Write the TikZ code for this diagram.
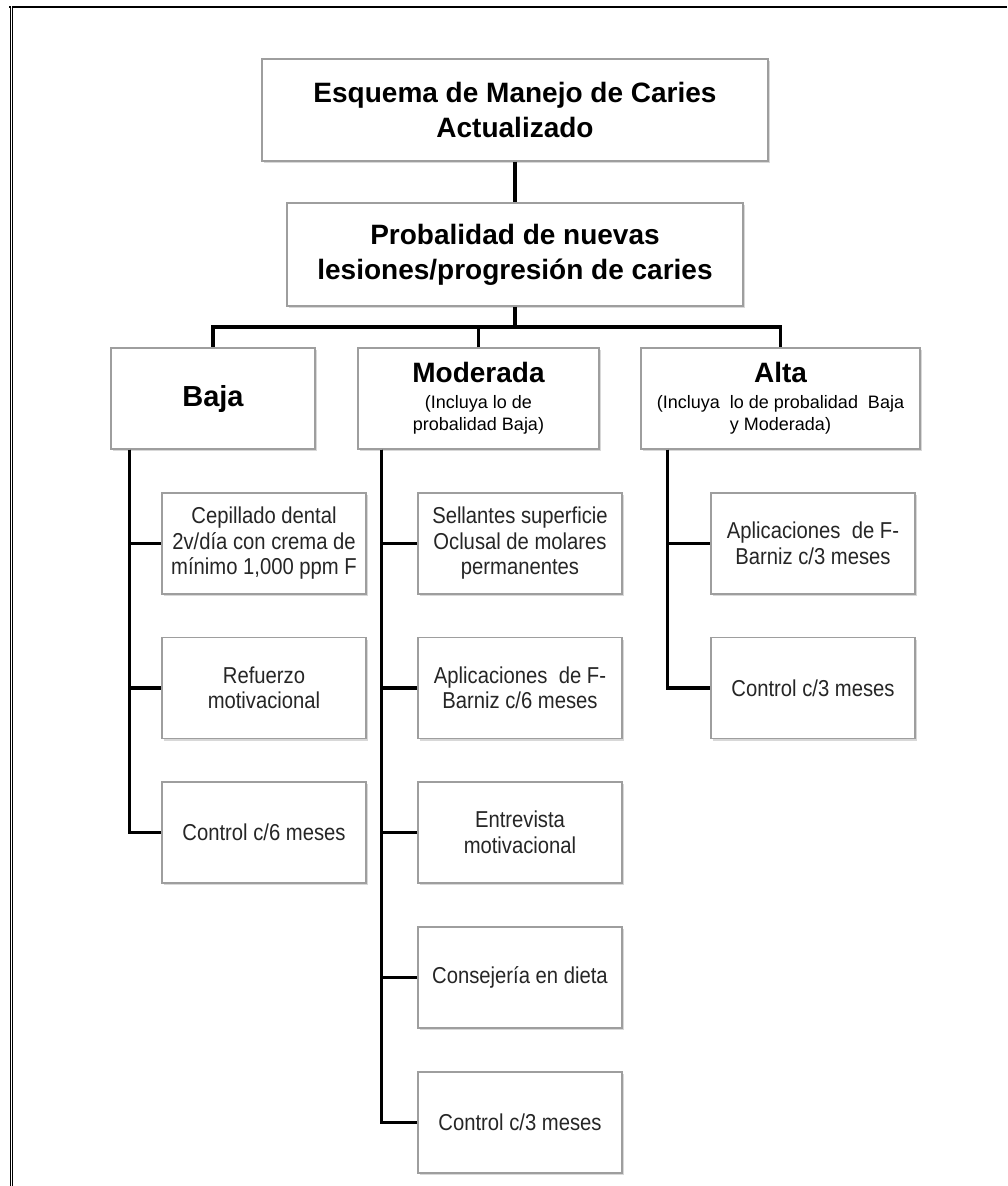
\documentclass[tikz,border=0pt]{standalone}
\usepackage{fontspec}
\setmainfont{Liberation Sans}
\newfontfamily\estrecha[FakeStretch=0.88]{Liberation Sans}
\usetikzlibrary{shadows}

\newcommand\titulo{\fontsize{28}{35}\selectfont\bfseries}
\newcommand\nivel{\fontsize{28}{30}\selectfont\bfseries}
\newcommand\nota{\fontsize{18}{22}\selectfont}
\newcommand\accion{\estrecha\fontsize{23}{25.5}\selectfont}

\tikzset{
  caja/.style={draw=black!38, line width=1.3pt, fill=white, align=center,
    drop shadow={shadow xshift=1.5pt, shadow yshift=-2pt, fill=black!30, opacity=0.5}},
  hijo/.style={caja, minimum width=204, minimum height=101, font=\accion, text=black!85},
  linea/.style={line width=3.2pt, black}
}

\begin{document}
\begin{tikzpicture}[x=1pt, y=-1pt]
\useasboundingbox (0,0) rectangle (1007,1186);
% marco
\draw[line width=2.6pt] (9,7) -- (1007,7);
\draw[double, double distance=1.3pt, line width=1.1pt] (11.5,6) -- (11.5,1186);

% cabecera
\node[caja, minimum width=506, minimum height=102, font=\titulo] (esquema) at (515,110) {Esquema de Manejo de Caries\\Actualizado};
\node[caja, minimum width=456, minimum height=103, font=\titulo] (prob) at (515,254.5) {Probalidad de nuevas\\lesiones/progresión de caries};

% niveles
\node[caja, minimum width=204, minimum height=101, font=\fontsize{29}{30}\selectfont\bfseries] (baja) at (213,398.5) {Baja};
\node[caja, minimum width=241, minimum height=101, font=\nota] (moderada) at (478.5,398.5) {{\nivel Moderada}\\[4pt](Incluya lo de\\probalidad Baja)};
\node[caja, minimum width=279, minimum height=101, font=\nota] (alta) at (780.5,398.5) {{\nivel Alta}\\[4pt](Incluya\ \ lo de probalidad\ \ Baja\\y Moderada)};

% baja
\node[hijo] (baja1) at (264,543.5) {Cepillado dental\\2v/día con crema de\\mínimo 1,000 ppm F};
\node[hijo] (baja2) at (264,688) {Refuerzo\\motivacional};
\node[hijo] (baja3) at (264,832.5) {Control c/6 meses};

% moderada
\node[hijo] (mod1) at (520,543.5) {Sellantes superficie\\Oclusal de molares\\permanentes};
\node[hijo] (mod2) at (520,688) {Aplicaciones\ \ de F-\\Barniz c/6 meses};
\node[hijo] (mod3) at (520,832.5) {Entrevista\\motivacional};
\node[hijo] (mod4) at (520,977.5) {Consejería en dieta};
\node[hijo] (mod5) at (520,1122.5) {Control c/3 meses};

% alta
\node[hijo] (alta1) at (813,543.5) {Aplicaciones\ \ de F-\\Barniz c/3 meses};
\node[hijo] (alta2) at (813,688) {Control c/3 meses};

% conectores
\coordinate (bus) at (515,327);
\draw[linea] (esquema.south) -- (prob.north);
\draw[linea] (prob.south) -- (bus);
\draw[linea] (bus) -| (baja.north);
\draw[linea] (bus) -| (alta.north);
\draw[linea] (moderada.north) -- (moderada.north |- bus);

\coordinate (ejeB) at ([xshift=19pt]baja.south west);
\coordinate (ejeM) at ([xshift=24pt]moderada.south west);
\coordinate (ejeA) at ([xshift=27pt]alta.south west);
\draw[linea] (ejeB) |- (baja1.west);
\draw[linea] (ejeB) |- (baja2.west);
\draw[linea] (ejeB) |- (baja3.west);
\draw[linea] (ejeM) |- (mod1.west);
\draw[linea] (ejeM) |- (mod2.west);
\draw[linea] (ejeM) |- (mod3.west);
\draw[linea] (ejeM) |- (mod4.west);
\draw[linea] (ejeM) |- (mod5.west);
\draw[linea] (ejeA) |- (alta1.west);
\draw[linea] (ejeA) |- (alta2.west);
\end{tikzpicture}
\end{document}
